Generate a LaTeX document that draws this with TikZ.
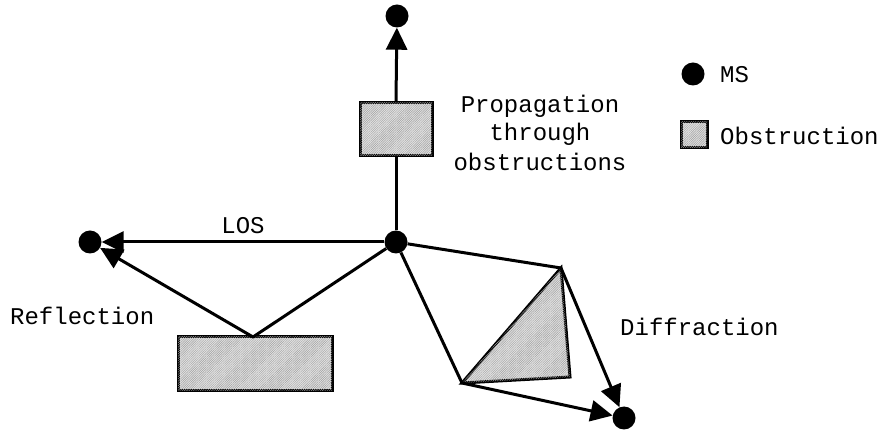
\documentclass[tikz,border=0pt]{standalone}
\usepackage{fontspec}
\setmonofont{Liberation Mono}
\usetikzlibrary{arrows.meta,patterns.meta}
\begin{document}
\begin{tikzpicture}[x=1pt,y=-1pt,
  every node/.style={font=\ttfamily\fontsize{24}{28}\selectfont},
  ms/.style={circle,fill=black,draw=none,minimum size=23pt,inner sep=0pt},
  obst/.style={draw=black,line width=3pt,fill=gray!22,
    postaction={pattern={Lines[angle=45,distance=1.6pt,line width=0.45pt]},pattern color=gray!75},
    inner sep=0pt},
  ray/.style={line width=3pt,line join=round},
  tip/.style={-{Triangle[length=22pt,width=21pt]}},
  lbl/.style={inner sep=0pt,align=center}]
\useasboundingbox (0,0) rectangle (884,435);

% stations
\node[ms] (c) at (396,242) {};
\node[ms] (top) at (397,16) {};
\node[ms] (left) at (90,242) {};
\node[ms] (bot) at (624,418) {};

% obstructions
\node[obst,minimum width=72pt,minimum height=53pt] (box1) at (396,129.5) {};
\node[obst,minimum width=154pt,minimum height=54pt] (box2) at (255,364) {};

% propagation through obstruction
\draw[ray] (c) -- (box1.south);
\draw[ray,tip] (box1.north) -- (top);

% line of sight
\draw[ray,tip] (c) -- (left);

% reflection
\coordinate (r) at (253,337);
\draw[ray,tip] (c) -- (r) -- (left);

% diffraction
\coordinate (d1) at (561,268);
\coordinate (d2) at (462,383);
\coordinate (d3) at (570,377);
\draw[ray] (c) -- (d1);
\draw[ray] (c) -- (d2);
\draw[obst] (d1) -- (d3) -- (d2) -- cycle;
\draw[ray,tip] (d1) -- (bot);
\draw[ray,tip] (d2) -- (bot);

% labels
\node[lbl] (los) at (243,226) {LOS};
\node[lbl,anchor=west] (refl) at (10,316) {Reflection};
\node[lbl,anchor=west] (diff) at (620,327) {Diffraction};
\node[lbl] (prop) at (540,106) {Propagation};
\node[lbl] (prop2) at (540,134) {through};
\node[lbl] (prop3) at (540,162) {obstructions};

% legend
\node[ms] (lgms) at (693,74) {};
\node[lbl,anchor=west] (lgmst) at (720,75) {MS};
\node[obst,minimum width=26pt,minimum height=26pt] (lgob) at (694,135) {};
\node[lbl,anchor=west] (lgobt) at (720,136) {Obstruction};
\end{tikzpicture}
\end{document}
